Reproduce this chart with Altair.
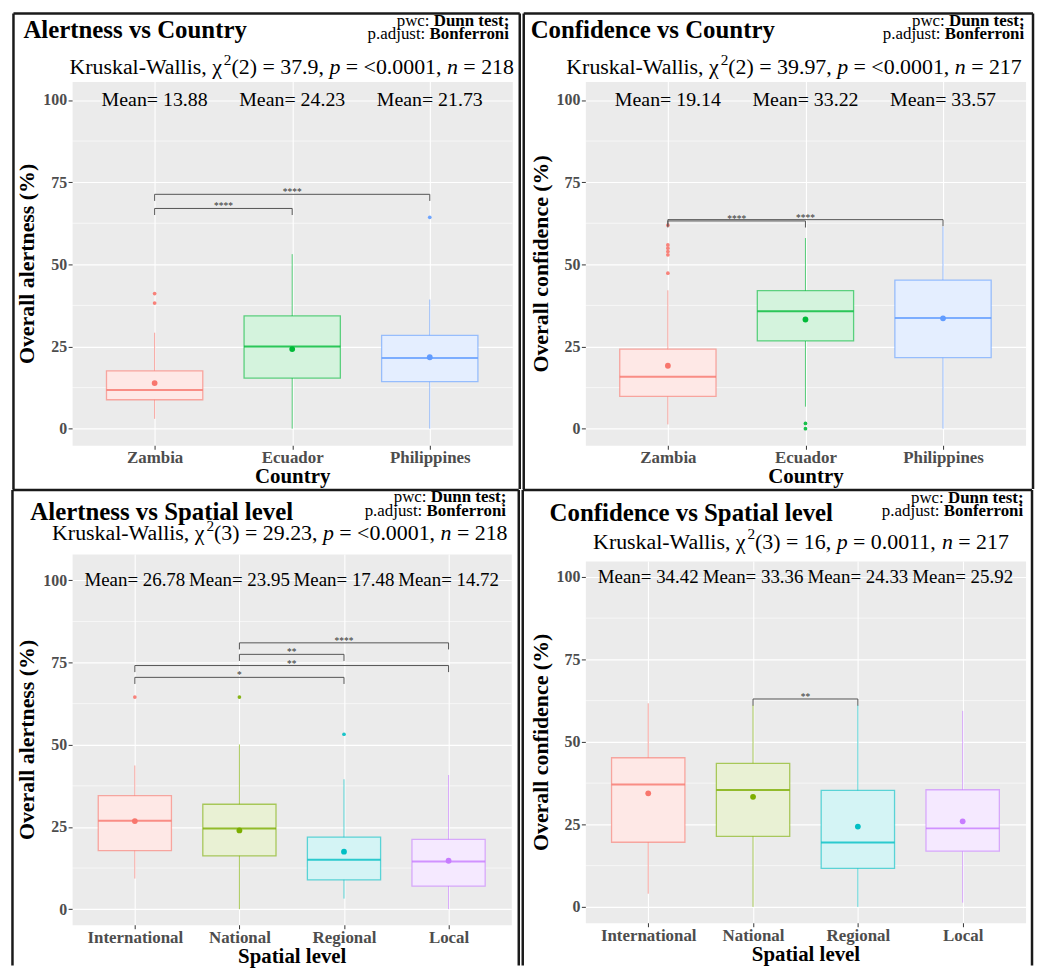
import json
import altair as alt
import pandas as pd

SERIF = "Liberation Serif"
BG = "#EBEBEB"

# ---------------- data ----------------
countries = ["Zambia", "Ecuador", "Philippines"]
levels = ["International", "National", "Regional", "Local"]
hue3 = ["#F8766D", "#00BA38", "#619CFF"]
hue4 = ["#F8766D", "#7CAE00", "#00BFC4", "#C77CFF"]
y_ticks = [0, 25, 50, 75, 100]

# Alertness vs Country
alert_country_q1 = [8.8, 15.4, 14.3]
alert_country_med = [11.8, 25.0, 21.5]
alert_country_q3 = [17.6, 34.3, 28.4]
alert_country_lo = [3.0, 0.0, 0.0]
alert_country_hi = [29.2, 53.1, 39.3]
alert_country_mean = [13.88, 24.23, 21.73]
alert_country_out_grp = ["Zambia", "Zambia", "Philippines"]
alert_country_out_val = [41.1, 38.2, 64.3]
alert_country_br_from = ["Zambia", "Zambia"]
alert_country_br_to = ["Ecuador", "Philippines"]
alert_country_br_y = [67.0, 71.3]
alert_country_br_lab = ["****", "****"]

# Confidence vs Country
conf_country_q1 = [9.8, 26.7, 21.6]
conf_country_med = [15.8, 35.7, 33.7]
conf_country_q3 = [24.2, 42.0, 45.2]
conf_country_lo = [1.3, 6.7, 0.0]
conf_country_hi = [42.1, 58.0, 61.5]
conf_country_mean = [19.14, 33.22, 33.57]
conf_country_out_grp = ["Zambia"] * 6 + ["Ecuador"] * 2
conf_country_out_val = [47.3, 52.9, 53.9, 54.9, 55.9, 61.9, 1.6, 0.0]
conf_country_br_from = ["Zambia", "Zambia"]
conf_country_br_to = ["Ecuador", "Philippines"]
conf_country_br_y = [63.2, 63.6]
conf_country_br_lab = ["****", "****"]

# Alertness vs Spatial level
alert_level_q1 = [17.8, 16.2, 8.9, 7.0]
alert_level_med = [26.9, 24.5, 15.0, 14.5]
alert_level_q3 = [34.5, 31.9, 21.9, 21.2]
alert_level_lo = [9.3, 0.0, 3.2, 0.0]
alert_level_hi = [43.7, 50.1, 39.5, 40.8]
alert_level_mean = [26.78, 23.95, 17.48, 14.72]
alert_level_out_grp = ["International", "National", "Regional"]
alert_level_out_val = [64.5, 64.5, 53.2]
alert_level_br_from = ["International", "International", "National", "National"]
alert_level_br_to = ["Regional", "Local", "Regional", "Local"]
alert_level_br_y = [70.5, 74.1, 77.5, 81.0]
alert_level_br_lab = ["*", "**", "**", "****"]

# Confidence vs Spatial level
conf_level_q1 = [19.6, 21.4, 11.7, 16.9]
conf_level_med = [37.1, 35.4, 19.5, 23.8]
conf_level_q3 = [45.2, 43.5, 35.3, 35.5]
conf_level_lo = [4.0, 0.0, 0.0, 1.3]
conf_level_hi = [61.7, 61.2, 61.2, 59.4]
conf_level_mean = [34.42, 33.36, 24.33, 25.92]
conf_level_out_grp = []
conf_level_out_val = []
conf_level_br_from = ["National"]
conf_level_br_to = ["Regional"]
conf_level_br_y = [63.0]
conf_level_br_lab = ["**"]

# ---------------- helpers ----------------
ONE = pd.DataFrame({"k": [0]})

_R = {' ': 250, '%': 833, '(': 333, ')': 333, ',': 250, '-': 333, '.': 250, ':': 278, ';': 278,
      '<': 564, '=': 564, 'A': 722, 'B': 667, 'C': 667, 'D': 722, 'K': 722, 'W': 944, 'M': 889,
      'a': 444, 'b': 500, 'c': 444, 'd': 500, 'e': 444, 'f': 333, 'g': 500, 'h': 500, 'i': 278,
      'j': 278, 'k': 500, 'l': 278, 'm': 778, 'n': 500, 'o': 500, 'p': 500, 'r': 333, 's': 389,
      't': 278, 'u': 500, 'v': 500, 'w': 722, 'y': 500, '\u03c7': 450}
for _d in "0123456789":
    _R[_d] = 500
_B = {' ': 250, ';': 333, ':': 333, 'B': 667, 'D': 722, 'a': 500, 'e': 444, 'f': 333, 'i': 278,
      'n': 556, 'o': 500, 'r': 444, 's': 389, 't': 333, 'u': 556}


def rich(pieces, x, y, size, align):
    ws = []
    for t, st in pieces:
        fs = size * 0.7 if st == "sup" else size
        tab = _B if st == "b" else _R
        ws.append(sum(tab.get(c, 500) for c in t) / 1000 * fs)
    total = sum(ws)
    cx = x - total if align == "right" else (x - total / 2 if align == "center" else x)
    out = []
    for (t, st), w in zip(pieces, ws):
        fs = size * 0.7 if st == "sup" else size
        tab = _B if st == "b" else _R
        lead = len(t) - len(t.lstrip(" "))
        out.append(
            alt.Chart(ONE).mark_text(
                text=t.strip(), font=SERIF, fontSize=fs,
                fontWeight="bold" if st == "b" else "normal",
                fontStyle="italic" if st == "i" else "normal",
                align="left", baseline="alphabetic", color="black",
            ).encode(x=alt.value(cx + lead * tab[" "] / 1000 * fs),
                     y=alt.value(y - 0.42 * size if st == "sup" else y))
        )
        cx += w
    return out


def lighten(h, a):
    rgb = [int(h[i:i + 2], 16) for i in (1, 3, 5)]
    return "#%02x%02x%02x" % tuple(round(255 - a * (255 - c)) for c in rgb)


def panel(cats, colors, q1, med, q3, lo, hi, mean, out_grp, out_val,
          br_from, br_to, br_y, br_lab, W, H, ydom, ytitle, xtitle, head):
    n = len(cats)
    fills = [lighten(c, 0.17) for c in colors]
    box = pd.DataFrame({"grp": cats, "pos": list(range(n)), "q1": q1, "med": med, "q3": q3,
                        "lo": lo, "hi": hi, "mean": mean})
    out = pd.DataFrame({"grp": out_grp, "val": out_val,
                        "pos": [cats.index(g) for g in out_grp]})
    br = pd.DataFrame({"a": [cats.index(g) for g in br_from],
                       "b": [cats.index(g) for g in br_to], "y": br_y, "lab": br_lab})
    minor = pd.DataFrame({"m": [(a + b) / 2 for a, b in zip(y_ticks[:-1], y_ticks[1:])]})

    xscale = alt.Scale(domain=[-0.6, n - 0.4], nice=False, zero=False)
    yscale = alt.Scale(domain=ydom, nice=False, zero=False)
    xaxis = alt.Axis(values=list(range(n)), labelExpr=json.dumps(cats) + "[datum.value]",
                     grid=True, gridColor="white", gridWidth=1.1, domain=False, ticks=True,
                     tickColor="#333333", tickSize=4, tickWidth=1, labelFont=SERIF,
                     labelFontSize=17, labelFontWeight="bold", labelColor="#4D4D4D",
                     labelPadding=0.5, labelAngle=0, labelFlush=False, labelOverlap=False,
                     titleFont=SERIF, titleFontSize=21, titleFontWeight="bold",
                     titleColor="black", titlePadding=0)
    yaxis = alt.Axis(values=y_ticks, grid=True, gridColor="white", gridWidth=1.1, domain=False,
                     tickColor="#333333", tickSize=4, tickWidth=1, labelFont=SERIF,
                     labelFontSize=16, labelFontWeight="bold", labelColor="#4D4D4D",
                     labelPadding=1.5, labelFlush=False, titleFont=SERIF, titleFontSize=22,
                     titleFontWeight="bold", titleColor="black", titlePadding=4)

    def X(f):
        return alt.X(f, scale=xscale, axis=xaxis, title=xtitle)

    def Y(f):
        return alt.Y(f, scale=yscale, axis=yaxis, title=ytitle)

    ccolor = alt.Color("grp:N", scale=alt.Scale(domain=cats, range=colors), legend=None)
    cfill = alt.Fill("grp:N", scale=alt.Scale(domain=cats, range=fills), legend=None)
    cstroke = alt.Stroke("grp:N", scale=alt.Scale(domain=cats, range=colors), legend=None)

    layers = [
        alt.Chart(minor).mark_rule(color="white", strokeWidth=0.6).encode(y=Y("m:Q")),
        alt.Chart(box).mark_rule(strokeWidth=1, opacity=0.65).encode(
            x=X("pos:Q"), y=Y("lo:Q"), y2="hi:Q", color=ccolor),
        alt.Chart(box).transform_calculate(x0="datum.pos - 0.35", x1="datum.pos + 0.35")
        .mark_rect(strokeWidth=1.3, strokeOpacity=0.6).encode(
            x=X("x0:Q"), x2="x1:Q", y=Y("q1:Q"), y2="q3:Q", fill=cfill, stroke=cstroke),
        alt.Chart(box).transform_calculate(x0="datum.pos - 0.35", x1="datum.pos + 0.35")
        .mark_rule(strokeWidth=2, opacity=0.8).encode(
            x=X("x0:Q"), x2="x1:Q", y=Y("med:Q"), color=ccolor),
        alt.Chart(box).mark_point(filled=True, size=34, opacity=1).encode(
            x=X("pos:Q"), y=Y("mean:Q"), color=ccolor),
    ]
    if len(out):
        layers.append(alt.Chart(out).mark_point(filled=True, size=14, opacity=0.9).encode(
            x=X("pos:Q"), y=Y("val:Q"), color=ccolor))
    layers += [
        alt.Chart(box).transform_calculate(txt="'Mean= ' + format(datum.mean, '.2f')")
        .mark_text(font=SERIF, fontSize=head["mfs"], color="black", baseline="middle").encode(
            x=X("pos:Q"), y=alt.Y(datum=100, scale=yscale, axis=yaxis, title=ytitle),
            text="txt:N"),
        alt.Chart(br).mark_rule(color="#555555", strokeWidth=1).encode(
            x=X("a:Q"), x2="b:Q", y=Y("y:Q")),
        alt.Chart(br).transform_calculate(t="datum.y - 2").mark_rule(
            color="#555555", strokeWidth=1).encode(x=X("a:Q"), y=Y("y:Q"), y2="t:Q"),
        alt.Chart(br).transform_calculate(t="datum.y - 2").mark_rule(
            color="#555555", strokeWidth=1).encode(x=X("b:Q"), y=Y("y:Q"), y2="t:Q"),
        alt.Chart(br).transform_calculate(mid="(datum.a + datum.b) / 2").mark_text(
            font=SERIF, fontSize=9.5, color="#333333", baseline="alphabetic", dy=1).encode(
            x=X("mid:Q"), y=Y("y:Q"), text="lab:N"),
    ]

    # headings
    layers += rich([(head["title"], "b")], head["tx"], head["ty"], 25, "left")
    layers += rich([("pwc: ", "r"), ("Dunn test;", "b")], head["pr"], head["py1"], 17, "right")
    layers += rich([("p.adjust: ", "r"), ("Bonferroni", "b")], head["pr"], head["py1"] + 13.5,
                   17, "right")
    layers += rich(head["sub"], head["sc"], head["sy"], 22, "center")

    # panel frame
    L, T, R, Bt = head["frame"]
    frame = dict(color="#1a1a1a", strokeWidth=2.5)
    layers += [
        alt.Chart(ONE).mark_rule(**frame).encode(x=alt.value(L), x2=alt.value(R), y=alt.value(T)),
        alt.Chart(ONE).mark_rule(**frame).encode(x=alt.value(L), y=alt.value(T), y2=alt.value(Bt)),
        alt.Chart(ONE).mark_rule(**frame).encode(x=alt.value(R), y=alt.value(T), y2=alt.value(Bt)),
    ]
    return alt.layer(*layers).properties(width=W, height=H)


def kw(df, chi, p, n):
    return [("Kruskal-Wallis, \u03c7", "r"), ("2", "sup"), ("(%s) = %s, " % (df, chi), "r"),
            ("p", "i"), (" = %s, " % p, "r"), ("n", "i"), (" = %s" % n, "r")]


tl = panel(countries, hue3, alert_country_q1, alert_country_med, alert_country_q3,
           alert_country_lo, alert_country_hi, alert_country_mean, alert_country_out_grp,
           alert_country_out_val, alert_country_br_from, alert_country_br_to,
           alert_country_br_y, alert_country_br_lab, 443, 366, [-5.05, 105.6],
           "Overall alertness (%)", "Country",
           dict(title="Alertness vs Country", tx=-49, ty=-43.5, pr=440, py1=-56,
                sub=kw(2, "37.9", "<0.0001", 218), sc=221, sy=-7.5, mfs=20,
                frame=(-59, -68.5, 450.5, 410)))
tr = panel(countries, hue3, conf_country_q1, conf_country_med, conf_country_q3,
           conf_country_lo, conf_country_hi, conf_country_mean, conf_country_out_grp,
           conf_country_out_val, conf_country_br_from, conf_country_br_to,
           conf_country_br_y, conf_country_br_lab, 443, 366, [-5.05, 105.6],
           "Overall confidence (%)", "Country",
           dict(title="Confidence vs Country", tx=-55, ty=-44, pr=442, py1=-56,
                sub=kw(2, "39.97", "<0.0001", 217), sc=210, sy=-7.5, mfs=20,
                frame=(-62, -68.5, 450.5, 410)))
bl = panel(levels, hue4, alert_level_q1, alert_level_med, alert_level_q3,
           alert_level_lo, alert_level_hi, alert_level_mean, alert_level_out_grp,
           alert_level_out_val, alert_level_br_from, alert_level_br_to,
           alert_level_br_y, alert_level_br_lab, 442, 373, [-4.75, 108.0],
           "Overall alertness (%)", "Spatial level",
           dict(title="Alertness vs Spatial level", tx=-42, ty=-34, pr=437, py1=-52,
                sub=kw(3, "29.23", "<0.0001", 218), sc=209, sy=-14, mfs=19,
                frame=(-60, -64.5, 449.5, 414)))
br_ = panel(levels, hue4, conf_level_q1, conf_level_med, conf_level_q3,
            conf_level_lo, conf_level_hi, conf_level_mean, conf_level_out_grp,
            conf_level_out_val, conf_level_br_from, conf_level_br_to,
            conf_level_br_y, conf_level_br_lab, 443, 364, [-4.8, 104.8],
            "Overall confidence (%)", "Spatial level",
            dict(title="Confidence vs Spatial level", tx=-36, ty=-40.5, pr=441, py1=-58.5,
                 sub=kw(3, "16", "0.0011", 217), sc=217, sy=-12.5, mfs=19,
                 frame=(-63, -71.5, 449.5, 407)))

res = dict(color="independent", fill="independent", stroke="independent")
col1 = alt.vconcat(tl, bl, spacing=-3.5).resolve_scale(**res)
col2 = alt.vconcat(tr, br_, spacing=-3.5).resolve_scale(**res)
chart = (
    alt.hconcat(col1, col2, spacing=-1.5)
    .resolve_scale(**res)
    .properties(padding={"left": 2.5, "top": 0, "right": 0, "bottom": 0}, background="white")
    .configure_view(fill=BG, stroke="transparent")
)
chart.save("out.html", embed_options={"renderer": "svg", "actions": False})
